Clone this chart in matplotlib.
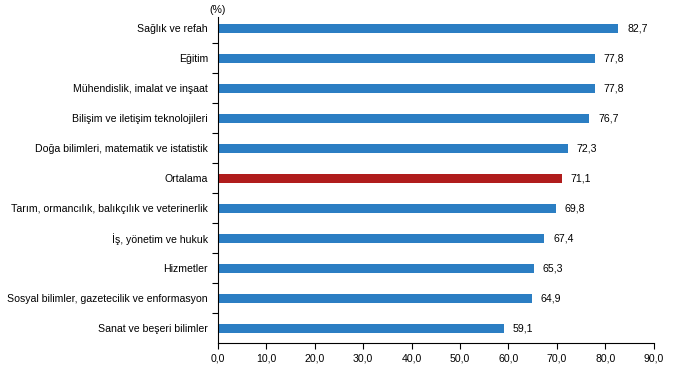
import matplotlib
matplotlib.use("Agg")
import matplotlib.pyplot as plt
import numpy as np

categories = ["Sağlık ve refah", "Eğitim", "Mühendislik, imalat ve inşaat",
              "Bilişim ve iletişim teknolojileri", "Doğa bilimleri, matematik ve istatistik",
              "Ortalama", "Tarım, ormancılık, balıkçılık ve veterinerlik",
              "İş, yönetim ve hukuk", "Hizmetler",
              "Sosyal bilimler, gazetecilik ve enformasyon", "Sanat ve beşeri bilimler"]
values = [82.7, 77.8, 77.8, 76.7, 72.3, 71.1, 69.8, 67.4, 65.3, 64.9, 59.1]
xticks = [0, 10, 20, 30, 40, 50, 60, 70, 80, 90]

plt.rcParams['font.family'] = ['Liberation Sans', 'DejaVu Sans']
fig = plt.figure(figsize=(7, 3.75), dpi=100)
ax = fig.add_axes([0.311, 0.085, 0.623, 0.88])

n = len(categories)
y = np.arange(n)
colors = ['#B01C1C' if c == "Ortalama" else '#2B7EC3' for c in categories]
ax.barh(y, values, height=0.3, color=colors)
for yi, v in zip(y, values):
    ax.text(v + 1.8, yi, f"{v:.1f}".replace('.', ','), va='center', ha='left', fontsize=7.6)

ax.set_ylim(n - 0.5, -0.5)
ax.set_xlim(0, 90)
ax.set_yticks(y)
ax.set_yticklabels(categories, fontsize=7.6)
ax.set_yticks(np.arange(0.5, n - 1, 1), minor=True)
ax.tick_params(axis='y', which='major', length=0, pad=7)
ax.tick_params(axis='y', which='minor', length=4, direction='out', width=0.8)
ax.set_xticks(xticks)
ax.set_xticklabels([f"{t:.1f}".replace('.', ',') for t in xticks], fontsize=7.6)
ax.tick_params(axis='x', length=4, width=0.8, direction='out')
for s in ['top', 'right']:
    ax.spines[s].set_visible(False)
for s in ['left', 'bottom']:
    ax.spines[s].set_linewidth(0.8)
ax.spines['left'].set_bounds(n - 0.5, -0.37)
ax.text(0, -0.6, "(%)", ha='center', va='center', fontsize=7.6, transform=ax.transData, clip_on=False)

fig.savefig("out.png", dpi=100, facecolor='white')
